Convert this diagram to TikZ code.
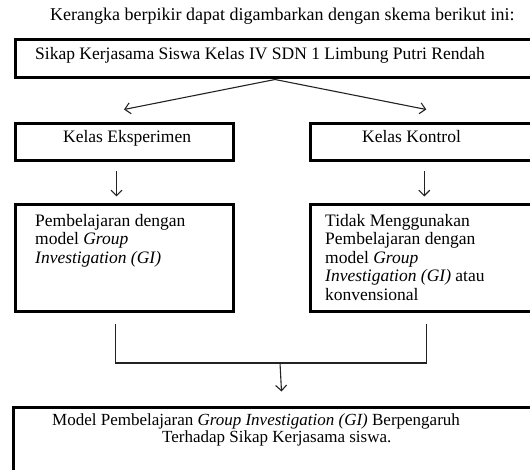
\documentclass[tikz,border=0pt]{standalone}
\usepackage{fontspec}
\setmainfont{Liberation Serif}
\usetikzlibrary{arrows.meta,positioning,calc}
\definecolor{ink}{RGB}{0,0,0}
\definecolor{wire}{RGB}{35,35,35}
\tikzset{
  every picture/.style={x=1pt, y=1pt, color=ink, font=\fontsize{17.5}{18.5}\selectfont},
  box/.style={draw=ink, line width=3pt, inner sep=0pt, anchor=north west},
  txt/.style={inner sep=0pt, anchor=base west, align=left},
  flow/.style={-{Straight Barb[length=5.5pt,width=11pt]}, line width=1.1pt, color=wire},
  joint/.style={line width=1.4pt, color=wire},
}

\begin{document}
\begin{tikzpicture}
  \useasboundingbox (0,0) rectangle (530,-470);
  \clip (0,0) rectangle (530,-470);
  % the frames, some run past the right and lower page edge
  \node[box, minimum width=531.5pt, minimum height=38pt] (sikap) at (13.5,-38.5) {};
  \node[box, minimum width=218pt, minimum height=37pt] (eksp) at (13.5,-122.5) {};
  \node[box, minimum width=236.5pt, minimum height=37pt] (kontrol) at (308.5,-122.5) {};
  \node[box, minimum width=218pt, minimum height=107pt] (gi) at (13.5,-203.5) {};
  \node[box, minimum width=236.5pt, minimum height=107pt] (konv) at (308.5,-203.5) {};
  \node[box, minimum width=548.5pt, minimum height=95pt] (hasil) at (11.5,-405.5) {};
  % texts (base anchor of a wrapped text sits on its last line)
  \node[txt, font=\fontsize{18}{20}\selectfont] (judul) at (50,-21) {Kerangka berpikir dapat digambarkan dengan skema berikut ini:};
  \node[txt] (sikaptxt) at ($(sikap.north west)+(21.5,-21.5)$) {Sikap Kerjasama Siswa Kelas IV SDN 1 Limbung Putri Rendah};
  \node[txt] (eksptxt) at ($(eksp.north west)+(49.5,-20.5)$) {Kelas Eksperimen};
  \node[txt] (kontroltxt) at ($(kontrol.north west)+(53.5,-20.5)$) {Kelas Kontrol};
  \node[txt] (gitxt) at ($(gi.north west)+(21.5,-60)$) {Pembelajaran dengan\\ model \textit{Group}\\ \textit{Investigation (GI)}};
  \node[txt] (konvtxt) at ($(konv.north west)+(16.5,-97)$) {Tidak Menggunakan\\ Pembelajaran dengan\\ model \textit{Group}\\ \textit{Investigation (GI)} atau\\ konvensional};
  \node[txt, font=\fontsize{17}{17}\selectfont] (hasiltxt) at ($(hasil.north west)+(40.5,-37)$) {Model Pembelajaran \textit{Group Investigation (GI)} Berpengaruh\\ \hspace*{110pt}Terhadap Sikap Kerjasama siswa.};
  % connectors
  \coordinate (split) at ($(sikap.south west)+(261.5,0)$);
  \coordinate (merge) at (280,-363);
  \draw[flow] (split) -- ([yshift=13pt]eksp.north);
  \draw[flow] (split) -- ([xshift=-2pt,yshift=13pt]kontrol.north);
  \draw[flow] ([xshift=-7.5pt,yshift=-9pt]eksp.south) -- ([xshift=-7.5pt,yshift=7pt]gi.north);
  \draw[flow] ([xshift=-4pt,yshift=-9pt]kontrol.south) -- ([xshift=-4pt,yshift=7pt]konv.north);
  \draw[joint] ([xshift=-8.5pt,yshift=-10.5pt]gi.south) |- (merge) -| ([xshift=-1.75pt,yshift=-10.5pt]konv.south);
  \draw[flow] (merge) -- ([xshift=-5.75pt,yshift=14pt]hasil.north);
\end{tikzpicture}
\end{document}
